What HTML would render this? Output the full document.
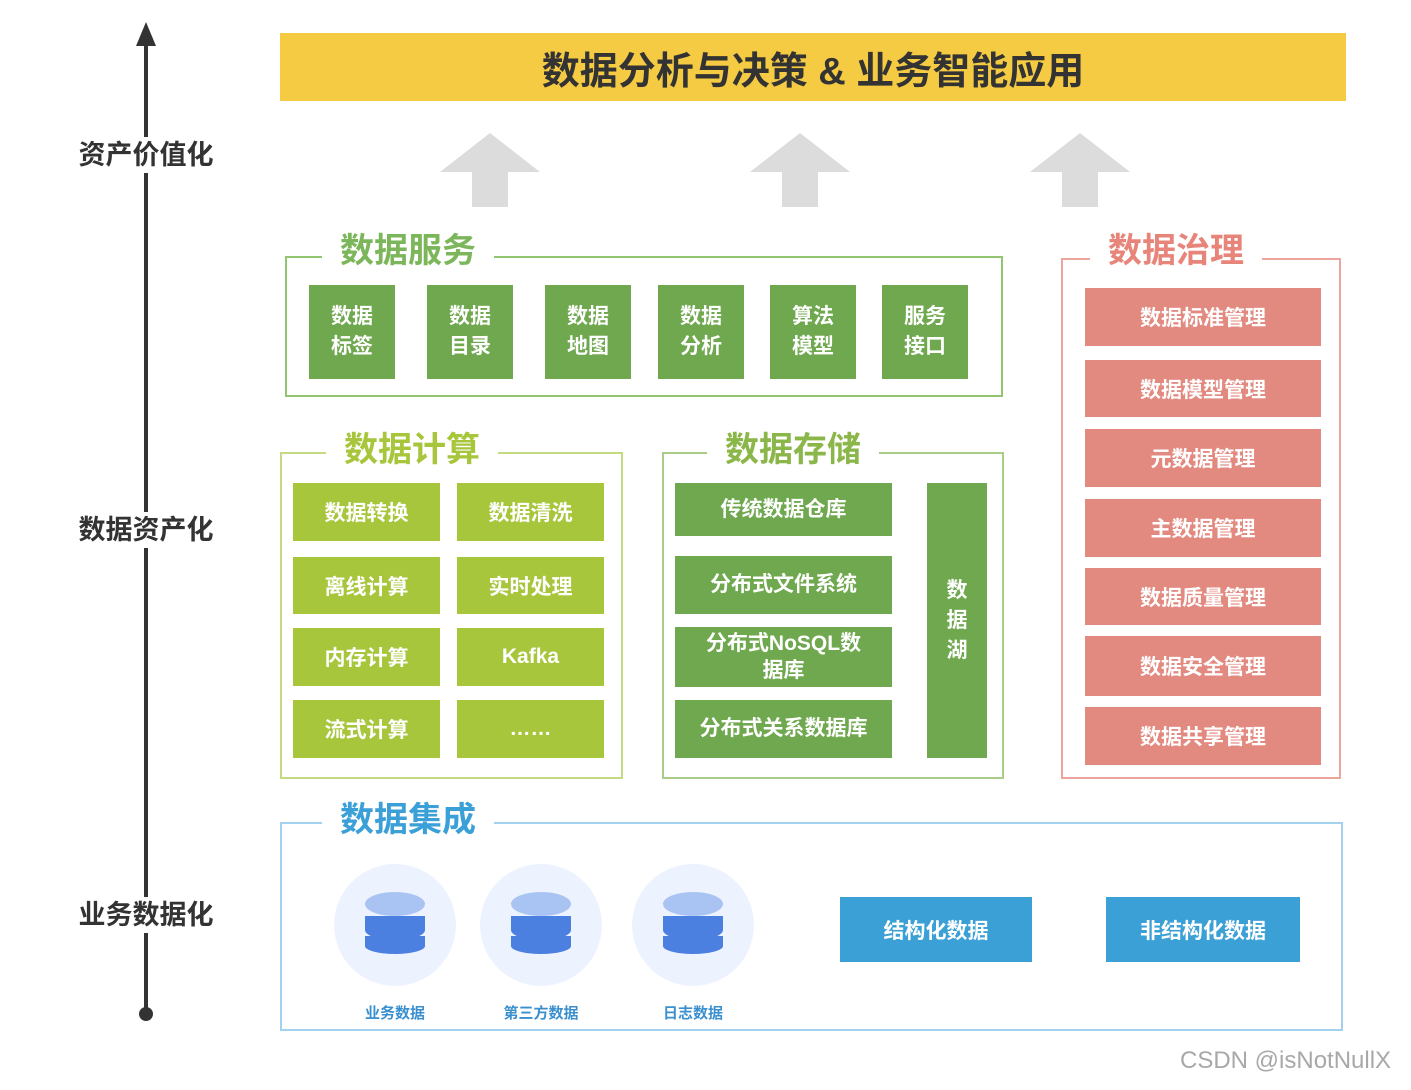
<!DOCTYPE html>
<html><head><meta charset="utf-8"><style>
body{margin:0;width:1411px;height:1090px;background:#fff;position:relative;overflow:hidden;font-family:"Liberation Sans","Noto Sans CJK SC",sans-serif;}
.a{position:absolute;box-sizing:border-box;}
.t{display:flex;align-items:center;justify-content:center;text-align:center;color:#fff;font-weight:bold;}
.lbl{position:absolute;background:#fff;font-weight:bold;font-size:34px;padding:0 18px;line-height:40px;}
.axl{position:absolute;left:60px;width:172px;text-align:center;background:#fff;font-weight:bold;font-size:27px;color:#333;line-height:36px;}
.g{background:#6fa84e;font-size:21px;line-height:30px;}
.lg{background:#a7c63c;font-size:21px;}
.r{background:#e38a80;font-size:21px;left:1085px;width:236px;}
.b{background:#3aa0d6;font-size:21px;}
.circ{position:absolute;width:122px;height:122px;border-radius:50%;background:#edf3fe;}
.cap{position:absolute;width:140px;text-align:center;color:#3a8fcf;font-weight:bold;font-size:15px;}
</style></head><body>
<!-- axis -->
<div class="a" style="left:144px;top:40px;width:4px;height:975px;background:#333"></div>
<svg class="a" style="left:136px;top:22px" width="20" height="26"><polygon points="10,0 20,24 0,24" fill="#333"/></svg>
<div class="a" style="left:139px;top:1007px;width:14px;height:14px;border-radius:50%;background:#333"></div>
<div class="axl" style="top:137px">资产价值化</div>
<div class="axl" style="top:512px">数据资产化</div>
<div class="axl" style="top:897px">业务数据化</div>

<!-- top bar -->
<div class="a t" style="left:280px;top:33px;width:1066px;height:68px;background:#f4cb42;color:#333;font-size:38px;">数据分析与决策 &amp; 业务智能应用</div>

<!-- gray arrows -->
<svg class="a" style="left:0;top:0" width="1411" height="220">
<g fill="#dcdcdc">
<polygon points="440,172 490,133 540,172 508,172 508,207 472,207 472,172"/>
<polygon points="750,172 800,133 850,172 818,172 818,207 782,207 782,172"/>
<polygon points="1030,172 1080,133 1130,172 1098,172 1098,207 1062,207 1062,172"/>
</g></svg>

<!-- data services -->
<div class="a" style="left:285px;top:256px;width:718px;height:141px;border:2px solid #93c46f"></div>
<div class="lbl" style="left:322px;top:231px;color:#7cb65a">数据服务</div>
<div class="a t g" style="left:309px;top:285px;width:86px;height:94px">数据<br>标签</div>
<div class="a t g" style="left:427px;top:285px;width:86px;height:94px">数据<br>目录</div>
<div class="a t g" style="left:545px;top:285px;width:86px;height:94px">数据<br>地图</div>
<div class="a t g" style="left:658px;top:285px;width:86px;height:94px">数据<br>分析</div>
<div class="a t g" style="left:770px;top:285px;width:86px;height:94px">算法<br>模型</div>
<div class="a t g" style="left:882px;top:285px;width:86px;height:94px">服务<br>接口</div>

<!-- governance -->
<div class="a" style="left:1061px;top:258px;width:280px;height:521px;border:2px solid #eba59c"></div>
<div class="lbl" style="left:1090px;top:231px;color:#e8857a">数据治理</div>
<div class="a t r" style="top:288px;height:58px">数据标准管理</div>
<div class="a t r" style="top:360px;height:57px">数据模型管理</div>
<div class="a t r" style="top:429px;height:58px">元数据管理</div>
<div class="a t r" style="top:499px;height:58px">主数据管理</div>
<div class="a t r" style="top:568px;height:57px">数据质量管理</div>
<div class="a t r" style="top:636px;height:60px">数据安全管理</div>
<div class="a t r" style="top:707px;height:58px">数据共享管理</div>

<!-- compute -->
<div class="a" style="left:280px;top:452px;width:343px;height:327px;border:2px solid #c4da80"></div>
<div class="lbl" style="left:326px;top:430px;color:#a7c63c">数据计算</div>
<div class="a t lg" style="left:293px;top:483px;width:147px;height:58px">数据转换</div>
<div class="a t lg" style="left:457px;top:483px;width:147px;height:58px">数据清洗</div>
<div class="a t lg" style="left:293px;top:557px;width:147px;height:57px">离线计算</div>
<div class="a t lg" style="left:457px;top:557px;width:147px;height:57px">实时处理</div>
<div class="a t lg" style="left:293px;top:628px;width:147px;height:58px">内存计算</div>
<div class="a t lg" style="left:457px;top:628px;width:147px;height:58px">Kafka</div>
<div class="a t lg" style="left:293px;top:700px;width:147px;height:58px">流式计算</div>
<div class="a t lg" style="left:457px;top:700px;width:147px;height:58px">……</div>

<!-- storage -->
<div class="a" style="left:662px;top:452px;width:342px;height:327px;border:2px solid #a9cc86"></div>
<div class="lbl" style="left:707px;top:430px;color:#8bb64a">数据存储</div>
<div class="a t g" style="left:675px;top:483px;width:217px;height:53px">传统数据仓库</div>
<div class="a t g" style="left:675px;top:556px;width:217px;height:58px">分布式文件系统</div>
<div class="a t g" style="left:675px;top:627px;width:217px;height:60px;line-height:27px">分布式NoSQL数<br>据库</div>
<div class="a t g" style="left:675px;top:700px;width:217px;height:58px">分布式关系数据库</div>
<div class="a t g" style="left:927px;top:483px;width:60px;height:275px;line-height:30px">数<br>据<br>湖</div>

<!-- integration -->
<div class="a" style="left:280px;top:822px;width:1063px;height:209px;border:2px solid #a3d2ee"></div>
<div class="lbl" style="left:322px;top:800px;color:#3ca0d8">数据集成</div>
<div class="circ" style="left:334px;top:864px"></div>
<div class="circ" style="left:480px;top:864px"></div>
<div class="circ" style="left:632px;top:864px"></div>
<svg class="a" style="left:0;top:880px" width="800" height="80">
<defs><g id="db">
<ellipse cx="0" cy="12" rx="30" ry="12" fill="#a9c3f2"/>
<path d="M-30,28 a30,8 0 0 0 60,0 v10 a30,10 0 0 1 -60,0z" fill="#4b7fe0"/>
<path d="M-30,24 h60 v10 a30,8 0 0 1 -60,0z" fill="#4b7fe0"/>
<path d="M-30,44 h60 v10 a30,8 0 0 1 -60,0z" fill="#4b7fe0"/>
</g></defs>
<use href="#db" x="395" y="12"/><use href="#db" x="541" y="12"/><use href="#db" x="693" y="12"/>
</svg>
<div class="cap" style="left:325px;top:1002px">业务数据</div>
<div class="cap" style="left:471px;top:1002px">第三方数据</div>
<div class="cap" style="left:623px;top:1002px">日志数据</div>
<div class="a t b" style="left:840px;top:897px;width:192px;height:65px">结构化数据</div>
<div class="a t b" style="left:1106px;top:897px;width:194px;height:65px">非结构化数据</div>

<div class="a" style="left:1180px;top:1047px;font-size:24px;color:#a8a8a8;">CSDN @isNotNullX</div>
</body></html>
